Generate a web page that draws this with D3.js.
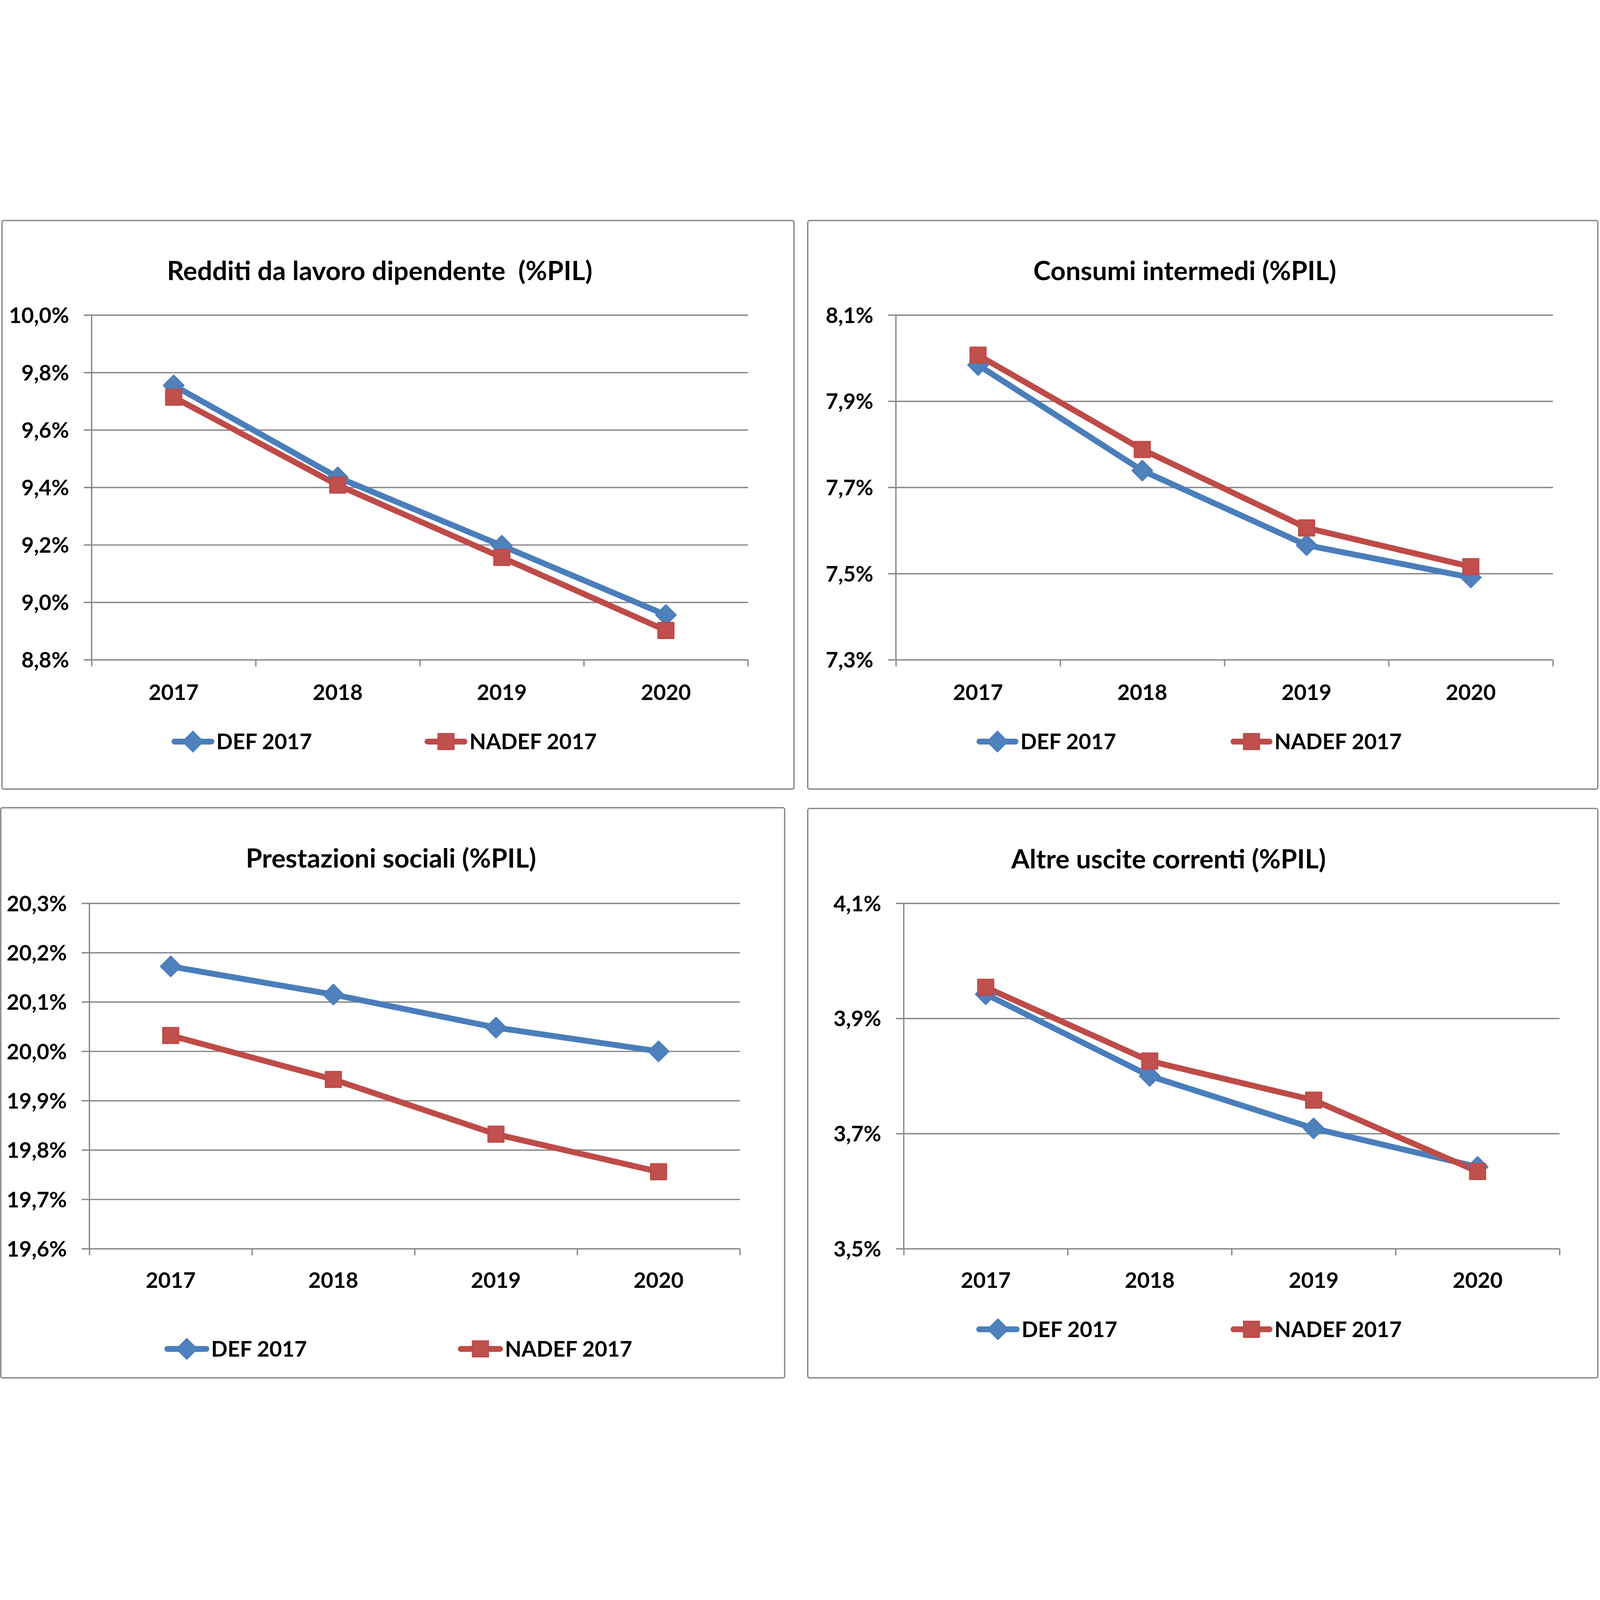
<!DOCTYPE html>
<html>
<head>
<meta charset="utf-8">
<script src="https://cdn.jsdelivr.net/npm/d3@7"></script>
<style>
  html, body { margin: 0; padding: 0; background: #ffffff; overflow: hidden; }
  svg { display: block; width: 100vw; height: 100vh; }
  text { font-family: Lato, "Open Sans", sans-serif; font-weight: 700; fill: #000; }
</style>
</head>
<body>
<svg id="chart" viewBox="0 0 6531 4737" preserveAspectRatio="xMidYMid meet"></svg>
<script>
// ---------------- DATA ----------------
const years = ["2017", "2018", "2019", "2020"];
const seriesNames = ["DEF 2017", "NADEF 2017"];

const titleRedditi = "Redditi da lavoro dipendente  (%PIL)";
const titleConsumi = "Consumi intermedi (%PIL)";
const titlePrestazioni = "Prestazioni sociali (%PIL)";
const titleAltre = "Altre uscite correnti (%PIL)";

const defRedditi   = [9.755, 9.435, 9.197, 8.956];
const nadefRedditi = [9.714, 9.408, 9.156, 8.902];

const defConsumi   = [7.984, 7.739, 7.566, 7.491];
const nadefConsumi = [8.007, 7.788, 7.606, 7.516];

const defPrestazioni   = [20.172, 20.115, 20.048, 20.000];
const nadefPrestazioni = [20.032, 19.943, 19.832, 19.756];

const defAltre   = [3.942, 3.800, 3.709, 3.642];
const nadefAltre = [3.954, 3.826, 3.758, 3.634];

const ticksRedditi     = [8.8, 9.0, 9.2, 9.4, 9.6, 9.8, 10.0];
const ticksConsumi     = [7.3, 7.5, 7.7, 7.9, 8.1];
const ticksPrestazioni = [19.6, 19.7, 19.8, 19.9, 20.0, 20.1, 20.2, 20.3];
const ticksAltre       = [3.5, 3.7, 3.9, 4.1];

// ---------------- LAYOUT ----------------
const layout = [
  { title: titleRedditi, def: defRedditi, nadef: nadefRedditi, ticks: ticksRedditi,
    box: [8, 3, 3241, 2324], plot: [374, 389, 3053, 1796], titleX: 1550, titleY: 246,
    xLabY: 1960, legY: 2130, legBlue: [700, 875], legRed: [1733, 1908] },
  { title: titleConsumi, def: defConsumi, nadef: nadefConsumi, ticks: ticksConsumi,
    box: [3297, 3, 6522, 2324], plot: [3657, 389, 6339, 1796], titleX: 4836, titleY: 246,
    xLabY: 1960, legY: 2130, legBlue: [3986, 4157], legRed: [5023, 5194] },
  { title: titlePrestazioni, def: defPrestazioni, nadef: nadefPrestazioni, ticks: ticksPrestazioni,
    box: [3, 2400, 3203, 4727], plot: [365, 2790, 3020, 4200], titleX: 1596, titleY: 2645,
    xLabY: 4360, legY: 4609, legBlue: [671, 854], legRed: [1869, 2053] },
  { title: titleAltre, def: defAltre, nadef: nadefAltre, ticks: ticksAltre,
    box: [3297, 2403, 6522, 4727], plot: [3689, 2790, 6366, 4200], titleX: 4770, titleY: 2647,
    xLabY: 4360, legY: 4529, legBlue: [3985, 4162], legRed: [5023, 5194] }
];

const blueLine = "#4A7EBB", blueFill = "#4F81BD";
const redLine = "#BE4B48", redFill = "#C0504D";
const gridColor = "#888888";

const it = d3.formatLocale({ decimal: ",", thousands: ".", grouping: [3], currency: ["", "€"] });
const fmt1 = it.format(".1f");

const svg = d3.select("#chart");
svg.append("rect").attr("width", 6531).attr("height", 4737).attr("fill", "#fff");

const diamond = d3.symbol().type(d3.symbolSquare).size(58 * 58);
const square = d3.symbol().type(d3.symbolSquare).size(64 * 64);

layout.forEach(p => {
  const g = svg.append("g");
  const [bx0, by0, bx1, by1] = p.box;
  g.append("rect")
    .attr("x", bx0).attr("y", by0)
    .attr("width", bx1 - bx0).attr("height", by1 - by0)
    .attr("rx", 8).attr("ry", 8)
    .attr("fill", "#fff").attr("stroke", gridColor).attr("stroke-width", 5.5);

  const [x0, yTop, x1, yBot] = p.plot;
  const x = d3.scaleBand().domain(years).range([x0, x1]);
  const xEdge = d3.scaleLinear().domain([0, years.length]).range([x0, x1]);
  const y = d3.scaleLinear().domain([d3.min(p.ticks), d3.max(p.ticks)]).range([yBot, yTop]);

  // title
  g.append("text")
    .attr("x", p.titleX).attr("y", p.titleY)
    .attr("text-anchor", "middle")
    .attr("font-size", 108)
    .style("white-space", "pre")
    .text(p.title);

  // y axis with gridlines
  const yAxis = d3.axisLeft(y)
    .tickValues(p.ticks)
    .tickSize((x1 - x0) + 32)
    .tickPadding(60)
    .tickFormat(d => fmt1(d) + "%");
  const ya = g.append("g").attr("transform", `translate(${x1},0)`).call(yAxis);
  ya.select(".domain").remove();
  ya.selectAll(".tick line").attr("stroke", gridColor).attr("stroke-width", 5.5);
  ya.selectAll(".tick text")
    .attr("font-size", 88)
    .attr("dy", "0.36em")
    .style("font-family", "Lato, 'Open Sans', sans-serif")
    .style("font-weight", 700)
    .attr("fill", "#000");

  // vertical axis line
  g.append("line")
    .attr("x1", x0).attr("x2", x0)
    .attr("y1", yTop).attr("y2", yBot)
    .attr("stroke", gridColor).attr("stroke-width", 5.5);

  // x axis tick marks at category edges
  const xa = g.append("g").attr("transform", `translate(0,${yBot})`)
    .call(d3.axisBottom(xEdge).tickValues(d3.range(years.length + 1)).tickSize(27).tickFormat(""));
  xa.select(".domain").remove();
  xa.selectAll(".tick line").attr("stroke", gridColor).attr("stroke-width", 5.5);

  // category labels
  g.selectAll(".xlab").data(years).enter().append("text")
    .attr("x", d => x(d) + x.bandwidth() / 2)
    .attr("y", p.xLabY)
    .attr("text-anchor", "middle")
    .attr("font-size", 88)
    .text(d => d);

  const line = d3.line()
    .x((d, i) => x(years[i]) + x.bandwidth() / 2)
    .y(d => y(d));

  g.append("path").datum(p.def)
    .attr("d", line).attr("fill", "none")
    .attr("stroke", blueLine).attr("stroke-width", 24)
    .attr("stroke-linejoin", "round").attr("stroke-linecap", "round");
  g.append("path").datum(p.nadef)
    .attr("d", line).attr("fill", "none")
    .attr("stroke", redLine).attr("stroke-width", 24)
    .attr("stroke-linejoin", "round").attr("stroke-linecap", "round");

  g.selectAll(".mdef").data(p.def).enter().append("path")
    .attr("d", diamond)
    .attr("transform", (d, i) => `translate(${x(years[i]) + x.bandwidth() / 2},${y(d)}) rotate(45)`)
    .attr("fill", blueFill).attr("stroke", blueLine).attr("stroke-width", 6)
    .attr("stroke-linejoin", "round");
  g.selectAll(".mnadef").data(p.nadef).enter().append("path")
    .attr("d", square)
    .attr("transform", (d, i) => `translate(${x(years[i]) + x.bandwidth() / 2},${y(d)})`)
    .attr("fill", redFill).attr("stroke", redLine).attr("stroke-width", 6)
    .attr("stroke-linejoin", "round");

  // legend
  const legs = [
    { seg: p.legBlue, color: blueLine, fill: blueFill, sym: diamond, rot: 45, name: seriesNames[0] },
    { seg: p.legRed, color: redLine, fill: redFill, sym: square, rot: 0, name: seriesNames[1] }
  ];
  legs.forEach(l => {
    g.append("line")
      .attr("x1", l.seg[0] + 12).attr("x2", l.seg[1] - 12)
      .attr("y1", p.legY).attr("y2", p.legY)
      .attr("stroke", l.color).attr("stroke-width", 24).attr("stroke-linecap", "round");
    g.append("path")
      .attr("d", l.sym)
      .attr("transform", `translate(${(l.seg[0] + l.seg[1]) / 2},${p.legY}) rotate(${l.rot})`)
      .attr("fill", l.fill).attr("stroke", l.color).attr("stroke-width", 6);
    g.append("text")
      .attr("x", l.seg[1] + 8).attr("y", p.legY + 32)
      .attr("font-size", 88)
      .text(l.name);
  });
});
</script>
</body>
</html>
